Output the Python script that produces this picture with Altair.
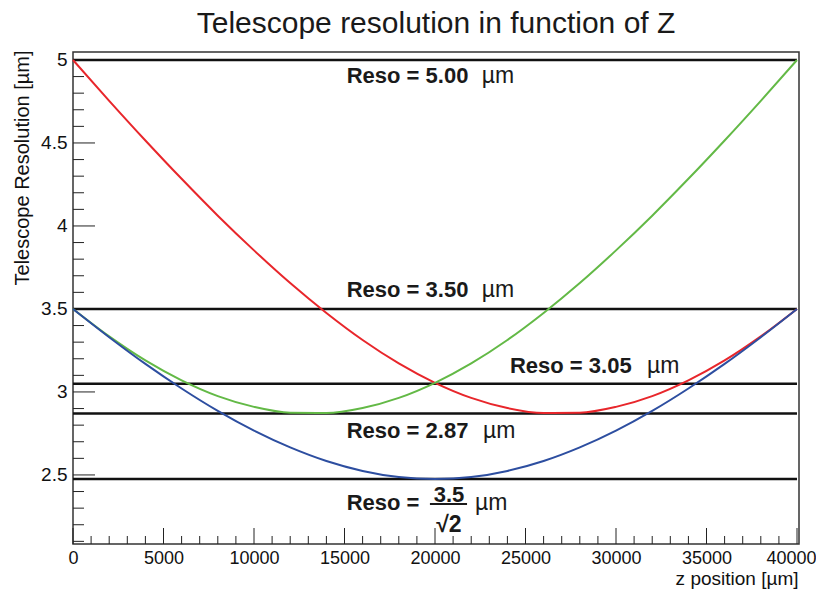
import altair as alt
import pandas as pd

# ---- data ----
z_pos = [0, 2000, 4000, 6000, 8000, 10000, 12000, 14000, 16000, 18000, 20000,
         22000, 24000, 26000, 28000, 30000, 32000, 34000, 36000, 38000, 40000]
reso_blue = [3.500, 3.330, 3.169, 3.021, 2.886, 2.767, 2.666, 2.584, 2.524, 2.487, 2.475,
             2.487, 2.524, 2.584, 2.666, 2.767, 2.886, 3.021, 3.169, 3.330, 3.500]
reso_green = [3.500, 3.335, 3.190, 3.070, 2.975, 2.910, 2.875, 2.873, 2.903, 2.964, 3.055,
              3.172, 3.313, 3.476, 3.656, 3.853, 4.062, 4.284, 4.515, 4.754, 5.000]
reso_red = [5.000, 4.754, 4.515, 4.284, 4.062, 3.853, 3.656, 3.476, 3.313, 3.172, 3.055,
            2.964, 2.903, 2.873, 2.875, 2.910, 2.975, 3.070, 3.190, 3.335, 3.500]

ref_levels = [5.00, 3.50, 3.05, 2.87, 2.475]
ref_start = [0, 0, 0, 0, 0]
ref_end = [40000, 40000, 40000, 40000, 40000]

label_text = ["Reso = 5.00", "Reso = 3.50", "Reso = 3.05", "Reso = 2.87", "Reso ="]
label_z = [15120, 15120, 24140, 15120, 15120]
label_y = [4.861, 3.572, 3.114, 2.723, 2.289]
unit_z = [22580, 22580, 31710, 22650, 22210]
unit_y = [4.861, 3.572, 3.114, 2.723, 2.289]

frac_num = ["3.5"]
frac_den = ["\u221a2"]
frac_z = [20770]
frac_num_y = [2.337]
frac_den_y = [2.157]
frac_bar_z1 = [19720]
frac_bar_z2 = [21770]
frac_bar_y = [2.325]

y_major = [2.5, 3.0, 3.5, 4.0, 4.5, 5.0]
y_minor = [2.1, 2.2, 2.3, 2.4, 2.6, 2.7, 2.8, 2.9, 3.1, 3.2, 3.3, 3.4, 3.6, 3.7, 3.8, 3.9,
           4.1, 4.2, 4.3, 4.4, 4.6, 4.7, 4.8, 4.9]
x_major = [0, 5000, 10000, 15000, 20000, 25000, 30000, 35000, 40000]
x_minor = [v for v in range(0, 40001, 1000) if v % 5000 != 0]

series_names = ["red", "green", "blue"]
series_colors = ["#e8262b", "#63b946", "#2d4ea0"]

FONT = "Liberation Sans"

curves = pd.DataFrame({
    "z": z_pos * 3,
    "reso": reso_red + reso_green + reso_blue,
    "series": ["red"] * len(z_pos) + ["green"] * len(z_pos) + ["blue"] * len(z_pos),
})
refs = pd.DataFrame({"level": ref_levels, "z1": ref_start, "z2": ref_end})
labels = pd.DataFrame({"text": label_text, "z": label_z, "y": label_y})
units = pd.DataFrame({"text": ["\u00b5m"] * len(unit_z), "z": unit_z, "y": unit_y})
fnum = pd.DataFrame({"text": frac_num, "z": frac_z, "y": frac_num_y})
fden = pd.DataFrame({"text": frac_den, "z": frac_z, "y": frac_den_y})
fbar = pd.DataFrame({"z1": frac_bar_z1, "z2": frac_bar_z2, "y": frac_bar_y})
ymaj = pd.DataFrame({"v": y_major})
ymin = pd.DataFrame({"v": y_minor})
xmaj = pd.DataFrame({"v": x_major})
xmin = pd.DataFrame({"v": x_minor})

xs = alt.Scale(domain=[0, 40110], nice=False, zero=False)
ys = alt.Scale(domain=[2.084, 5.048], nice=False, zero=False)

last_x = "datum.value == 40000"
x_axis = alt.Axis(values=x_major, format="d", labelFont=FONT, labelFontSize=18,
                  labelColor="#111", ticks=False, tickSize=0, domain=False, grid=False,
                  labelPadding=5, labelFlush=False, labelOverlap=False,
                  labelAlign={"condition": {"test": last_x, "value": "right"}, "value": "center"},
                  labelOffset={"condition": {"test": last_x, "value": 19}, "value": 0},
                  title="z position [\u00b5m]", titleFont=FONT, titleFontSize=19,
                  titleFontWeight="normal", titleColor="#111", titleAnchor="end",
                  titleAlign="right", titleBaseline="alphabetic", titleX=725, titleY=40)
y_axis = alt.Axis(values=y_major, format="~g", labelFont=FONT, labelFontSize=19,
                  labelColor="#111", ticks=False, tickSize=0, domain=False, grid=False,
                  labelPadding=6, labelFlush=False, labelOverlap=False,
                  title="Telescope Resolution [\u00b5m]", titleFont=FONT, titleFontSize=20,
                  titleFontWeight="normal", titleColor="#111", titleAnchor="end",
                  titleAngle=270, titleAlign="right", titleBaseline="alphabetic",
                  titleX=-45, titleY=-2)

lines = alt.Chart(curves).mark_line(strokeWidth=2, interpolate="monotone").encode(
    x=alt.X("z:Q", scale=xs, axis=x_axis),
    y=alt.Y("reso:Q", scale=ys, axis=y_axis),
    color=alt.Color("series:N", scale=alt.Scale(domain=series_names, range=series_colors),
                    legend=None),
    detail="series:N",
)

ref_rules = alt.Chart(refs).mark_rule(color="#111", strokeWidth=2.5).encode(
    x=alt.X("z1:Q", scale=xs), x2="z2:Q", y=alt.Y("level:Q", scale=ys)
)

bold_txt = alt.Chart(labels).mark_text(font=FONT, fontSize=22, fontWeight="bold",
                                       align="left", baseline="alphabetic", color="#1a1a1a").encode(
    x=alt.X("z:Q", scale=xs), y=alt.Y("y:Q", scale=ys), text="text:N"
)
unit_txt = alt.Chart(units).mark_text(font=FONT, fontSize=23, fontWeight="normal",
                                      align="left", baseline="alphabetic", color="#1a1a1a").encode(
    x=alt.X("z:Q", scale=xs), y=alt.Y("y:Q", scale=ys), text="text:N"
)
num_txt = alt.Chart(fnum).mark_text(font=FONT, fontSize=22, fontWeight="bold",
                                    align="center", baseline="alphabetic", color="#1a1a1a").encode(
    x=alt.X("z:Q", scale=xs), y=alt.Y("y:Q", scale=ys), text="text:N"
)
den_txt = alt.Chart(fden).mark_text(font=FONT, fontSize=23, fontWeight="bold",
                                    align="center", baseline="alphabetic", color="#1a1a1a").encode(
    x=alt.X("z:Q", scale=xs), y=alt.Y("y:Q", scale=ys), text="text:N"
)
bar_rule = alt.Chart(fbar).mark_rule(color="#1a1a1a", strokeWidth=2).encode(
    x=alt.X("z1:Q", scale=xs), x2="z2:Q", y=alt.Y("y:Q", scale=ys)
)

tick_col = "#222"
ymaj_t = alt.Chart(ymaj).mark_rule(color=tick_col, strokeWidth=1).encode(
    y=alt.Y("v:Q", scale=ys), x=alt.value(0), x2=alt.value(22))
ymin_t = alt.Chart(ymin).mark_rule(color=tick_col, strokeWidth=1).encode(
    y=alt.Y("v:Q", scale=ys), x=alt.value(0), x2=alt.value(11))
xmaj_t = alt.Chart(xmaj).mark_rule(color=tick_col, strokeWidth=1).encode(
    x=alt.X("v:Q", scale=xs), y=alt.value(492), y2=alt.value(476))
xmin_t = alt.Chart(xmin).mark_rule(color=tick_col, strokeWidth=1).encode(
    x=alt.X("v:Q", scale=xs), y=alt.value(492), y2=alt.value(484))

chart = alt.layer(
    ymaj_t, ymin_t, xmaj_t, xmin_t, ref_rules, lines, bold_txt, unit_txt, num_txt,
    den_txt, bar_rule
).properties(
    width=726, height=492,
    padding={"left": 65, "top": 44, "right": 17, "bottom": 48},
    autosize=alt.AutoSizeParams(type="none"),
    title=alt.TitleParams("Telescope resolution in function of Z", font=FONT, fontSize=30,
                          fontWeight="normal", color="#1a1a1a", anchor="middle", offset=11),
).configure_view(stroke="#333", strokeWidth=1.5)

chart.save("out.html", embed_options={"renderer": "svg", "actions": False})
